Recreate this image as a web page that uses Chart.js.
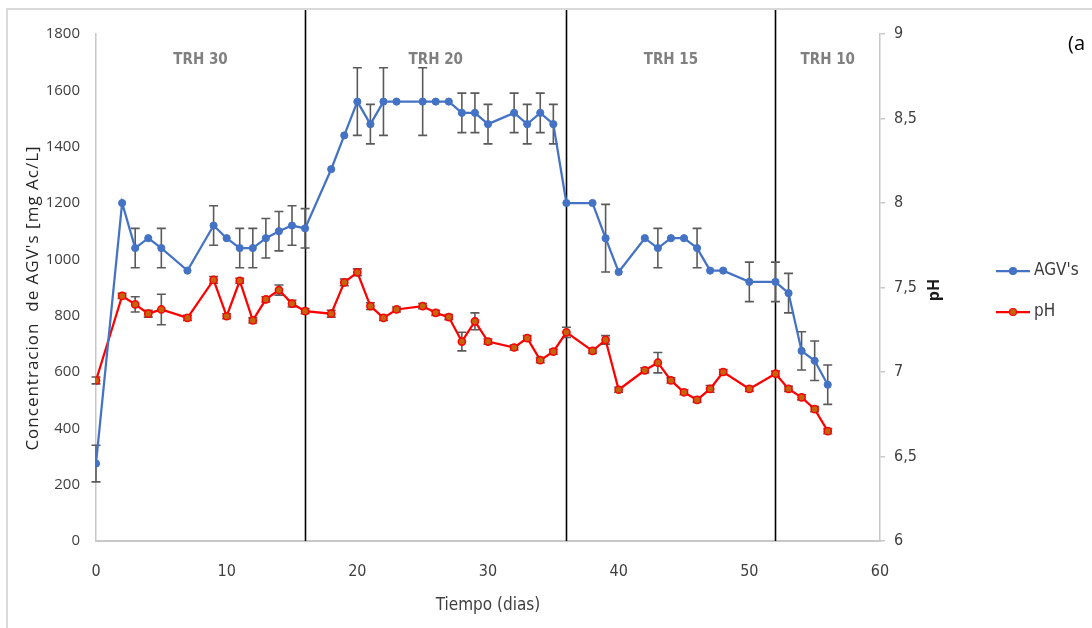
<!DOCTYPE html>
<html>
<head>
<meta charset="utf-8">
<script src="https://cdn.jsdelivr.net/npm/chart.js@4.4.1/dist/chart.umd.min.js"></script>
<style>
  html, body { margin:0; padding:0; background:#ffffff; }
  #wrap { position:relative; width:1092px; height:628px; overflow:hidden; }
  #frame { position:absolute; left:6px; top:8px; width:1200px; height:700px;
           border-left:2px solid #d9d9d9; border-top:2px solid #d9d9d9; }
  canvas { position:absolute; left:0; top:0; }
</style>
</head>
<body>
<div id="wrap">
  <div id="frame"></div>
  <canvas id="c" width="1092" height="628"></canvas>
</div>
<script>
// ---- data ----
const days   = [0,2,3,4,5,7,9,10,11,12,13,14,15,16,18,19,20,21,22,23,25,26,27,28,29,30,32,33,34,35,36,38,39,40,42,43,44,45,46,47,48,50,52,53,54,55,56];
const agv    = [275,1200,1040,1075,1040,960,1120,1075,1040,1040,1075,1100,1120,1110,1320,1440,1560,1480,1560,1560,1560,1560,1560,1520,1520,1480,1520,1480,1520,1480,1200,1200,1075,955,1075,1040,1075,1075,1040,960,960,920,920,880,675,640,555];
const agvErr = [65,0,70,0,70,0,70,0,70,70,70,70,70,70,0,0,120,70,120,0,120,0,0,70,70,70,70,70,70,70,0,0,120,0,0,70,0,0,70,0,0,70,70,70,68,70,70];
const ph     = [6.95,7.45,7.40,7.345,7.37,7.32,7.545,7.33,7.54,7.305,7.43,7.485,7.405,7.36,7.345,7.53,7.59,7.39,7.32,7.37,7.39,7.35,7.325,7.18,7.30,7.18,7.145,7.20,7.07,7.12,7.235,7.125,7.19,6.895,7.01,7.055,6.95,6.88,6.835,6.90,7.0,6.90,6.99,6.90,6.85,6.78,6.65];
const phErr  = [0.02,0.015,0.045,0.02,0.09,0.015,0.02,0.015,0.015,0.015,0.015,0.03,0.02,0.015,0.02,0.02,0.02,0.02,0.015,0.015,0.015,0.015,0.015,0.055,0.05,0.015,0.015,0.015,0.015,0.015,0.03,0.015,0.025,0.015,0.015,0.06,0.015,0.015,0.015,0.02,0.015,0.015,0.015,0.015,0.015,0.015,0.015];
const phaseStart  = [0,16,36,52];
const phaseEnd    = [16,36,52,60];
const phaseLabels = ['TRH 30','TRH 20','TRH 15','TRH 10'];
const seriesNames = ["AGV's", 'pH'];
const xTitle = 'Tiempo (dias)';
const yTitle = "Concentracion  de AGV's [mg Ac/L]";
const y2Title = 'pH';
const panelTag = '(a';

const NARROW = "'Liberation Sans Narrow','DejaVu Sans Condensed','Roboto Condensed',sans-serif";
const WIDE = "'Open Sans','DejaVu Sans',sans-serif";
const BLUE = '#4472C4', RED = '#FF0000', PHFILL = '#c4650c';

const errorErr = [agvErr, phErr];

const errorBars = {
  id:'errorBars',
  beforeDatasetsDraw(chart) {
    const ctx = chart.ctx;
    ctx.save();
    ctx.strokeStyle = '#5a5a5a';
    ctx.lineWidth = 1.6;
    chart.data.datasets.forEach((ds, i) => {
      const meta = chart.getDatasetMeta(i);
      const sc = chart.scales[ds.yAxisID];
      const errs = errorErr[i];
      meta.data.forEach((pt, j) => {
        const e = errs[j];
        if (!e) return;
        const v = ds.data[j].y;
        const yt = sc.getPixelForValue(v + e), yb = sc.getPixelForValue(v - e);
        const x = pt.x;
        ctx.beginPath();
        ctx.moveTo(x, yt); ctx.lineTo(x, yb);
        ctx.moveTo(x-4.5, yt); ctx.lineTo(x+4.5, yt);
        ctx.moveTo(x-4.5, yb); ctx.lineTo(x+4.5, yb);
        ctx.stroke();
      });
    });
    ctx.restore();
  }
};

const phases = {
  id:'phases',
  beforeDatasetsDraw(chart) {
    const {ctx, chartArea} = chart;
    const xs = chart.scales.x;
    ctx.save();
    ctx.strokeStyle = '#000';
    ctx.lineWidth = 1.6;
    phaseStart.slice(1).forEach(d => {
      const x = Math.round(xs.getPixelForValue(d)) + 0.5;
      ctx.beginPath(); ctx.moveTo(x, 10); ctx.lineTo(x, chartArea.bottom); ctx.stroke();
    });
    ctx.fillStyle = '#808080';
    ctx.font = 'bold 15px ' + NARROW;
    ctx.textAlign = 'center';
    ctx.textBaseline = 'middle';
    phaseLabels.forEach((t, i) => {
      const x = xs.getPixelForValue((phaseStart[i] + phaseEnd[i]) / 2);
      ctx.fillText(t, x, chartArea.top + 26);
    });
    ctx.restore();
  }
};

const extras = {
  id:'extras',
  afterDraw(chart) {
    const {ctx, chartArea} = chart;
    // left axis title
    ctx.save();
    ctx.fillStyle = '#262626';
    ctx.font = '17px ' + WIDE;
    if ('letterSpacing' in ctx) ctx.letterSpacing = '1px';
    ctx.translate(33, 298);
    ctx.rotate(-Math.PI/2);
    ctx.textAlign = 'center'; ctx.textBaseline = 'middle';
    ctx.fillText(yTitle, 0, 0);
    ctx.restore();

    // right axis title, rotated like the reference
    ctx.save();
    ctx.fillStyle = '#1a1a1a';
    ctx.font = 'bold 16px ' + WIDE;
    ctx.translate(934, 290);
    ctx.rotate(-Math.PI/2);
    ctx.textAlign = 'center'; ctx.textBaseline = 'middle';
    ctx.fillText(y2Title, 0, 0);
    ctx.restore();

    // legend
    ctx.save();
    const items = [
      {name: seriesNames[0], y: 271, color: BLUE, fill: BLUE, r: 3.5},
      {name: seriesNames[1], y: 312, color: RED, fill: PHFILL, r: 3.5}
    ];
    items.forEach(it => {
      ctx.strokeStyle = it.color; ctx.lineWidth = 2.25;
      ctx.beginPath(); ctx.moveTo(996, it.y); ctx.lineTo(1030, it.y); ctx.stroke();
      ctx.beginPath(); ctx.arc(1013, it.y, it.r, 0, Math.PI*2);
      ctx.fillStyle = it.fill; ctx.fill();
      ctx.lineWidth = 1.2; ctx.strokeStyle = it.color; ctx.stroke();
      ctx.fillStyle = '#3a3a3a';
      ctx.font = '17px ' + NARROW;
      ctx.textAlign = 'left'; ctx.textBaseline = 'middle';
      ctx.fillText(it.name, 1034, it.y);
    });
    // panel tag
    ctx.fillStyle = '#000';
    ctx.font = '20px ' + WIDE;
    ctx.textAlign = 'left'; ctx.textBaseline = 'alphabetic';
    ctx.fillText(panelTag, 1068, 50);
    ctx.restore();
  }
};

const chart = new Chart(document.getElementById('c'), {
  type: 'line',
  data: {
    datasets: [
      {
        label: seriesNames[0],
        data: days.map((d, i) => ({x: d, y: agv[i]})),
        yAxisID: 'y',
        borderColor: BLUE, backgroundColor: BLUE,
        borderWidth: 2.25,
        pointRadius: 3.6, pointBorderWidth: 1, pointBorderColor: BLUE, pointBackgroundColor: BLUE,
        tension: 0
      },
      {
        label: seriesNames[1],
        data: days.map((d, i) => ({x: d, y: ph[i]})),
        yAxisID: 'y2',
        borderColor: RED, backgroundColor: PHFILL,
        borderWidth: 2.25,
        pointRadius: 3.6, pointBorderWidth: 1.5, pointBorderColor: RED, pointBackgroundColor: PHFILL,
        tension: 0
      }
    ]
  },
  options: {
    responsive: false,
    animation: false,
    devicePixelRatio: 1,
    layout: { padding: { left: 0, right: 152, top: 34, bottom: 0 } },
    plugins: { legend: { display: false }, tooltip: { enabled: false } },
    scales: {
      x: {
        type: 'linear', min: 0, max: 60,
        ticks: { stepSize: 10, padding: 13, color: '#404040', font: { family: NARROW, size: 16 } },
        grid: { display: false },
        border: { display: true, color: '#c8c8c8', width: 2 },
        title: { display: true, text: xTitle, color: '#404040', font: { family: NARROW, size: 17 }, padding: { top: 0, bottom: 12 } },
        afterFit(s) { s.height = 87; }
      },
      y: {
        type: 'linear', position: 'left', min: 0, max: 1800,
        ticks: { stepSize: 200, padding: 8, color: '#404040', font: { family: WIDE, size: 15 },
                 callback: v => String(v) },
        grid: { display: false },
        border: { display: true, color: '#c8c8c8', width: 1.5 },
        title: { display: false },
        afterFit(s) { s.width = 96; }
      },
      y2: {
        type: 'linear', position: 'right', min: 6, max: 9,
        ticks: { stepSize: 0.5, padding: 9, color: '#404040', font: { family: NARROW, size: 16 },
                 callback: v => String(v).replace('.', ',') },
        grid: { display: true, drawOnChartArea: false, drawTicks: true, tickLength: 5, color: '#c8c8c8', lineWidth: 1.5 },
        border: { display: true, color: '#c8c8c8', width: 1.5 },
        afterFit(s) { s.width = 60; }
      }
    }
  },
  plugins: [phases, errorBars, extras]
});
</script>
</body>
</html>
